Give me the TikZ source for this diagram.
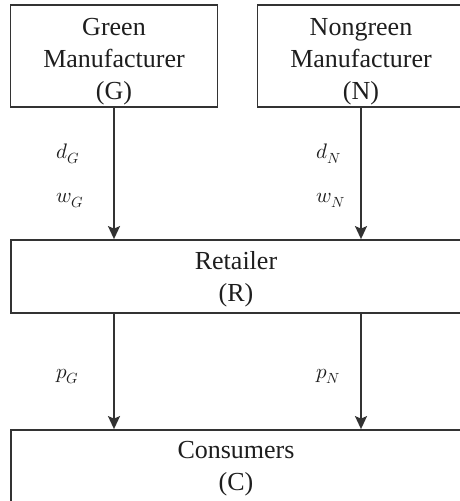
\documentclass[tikz,border=0pt]{standalone}
\usepackage{unicode-math}
\setmainfont{Liberation Serif}
\setmathfont{Latin Modern Math}
\usetikzlibrary{arrows.meta}

\definecolor{edge}{HTML}{333333}
\definecolor{ink}{HTML}{1E1E1E}

\tikzset{
  frame/.style={draw=edge, line width=1.8pt, inner sep=0pt},
  boxtext/.style={text=ink, align=center, inner sep=0pt,
                  font=\fontsize{26}{32}\selectfont},
  flow/.style={draw=edge, line width=1.8pt,
               -{Stealth[length=13pt,width=12pt,inset=2.5pt]}},
  var/.style={text=ink, inner sep=0pt, anchor=base west,
              font=\fontsize{21}{25}\selectfont}
}

\begin{document}
\begin{tikzpicture}[x=1pt,y=-1pt]
\useasboundingbox (0,0) rectangle (460,501);

% actors
\node[frame, minimum width=207pt, minimum height=102pt] (G) at (114,56) {};
\node[boxtext] (Gt) at (114,61.5) {Green\\Manufacturer\\(G)};

\node[frame, minimum width=207pt, minimum height=102pt] (N) at (361,56) {};
\node[boxtext] (Nt) at (361,61.5) {Nongreen\\Manufacturer\\(N)};

\node[frame, minimum width=450pt, minimum height=73pt] (R) at (236,276.5) {};
\node[boxtext] (Rt) at (236,279) {Retailer\\(R)};

\node[frame, minimum width=450pt, minimum height=73pt] (C) at (236,466.5) {};
\node[boxtext] (Ct) at (236,469) {Consumers\\(C)};

% flows
\draw[flow] (G.south) -- (G.south |- R.north);
\draw[flow] (N.south) -- (N.south |- R.north);
\draw[flow] (R.south -| G.south) -- (C.north -| G.south);
\draw[flow] (R.south -| N.south) -- (C.north -| N.south);

% flow variables
\node[var] (dG) at (56,158) {$d_G$};
\node[var] (wG) at (56,202) {$w_G$};
\node[var] (dN) at (316,158) {$d_N$};
\node[var] (wN) at (316,202) {$w_N$};
\node[var] (pG) at (56,378) {$p_G$};
\node[var] (pN) at (316,378) {$p_N$};
\end{tikzpicture}
\end{document}
